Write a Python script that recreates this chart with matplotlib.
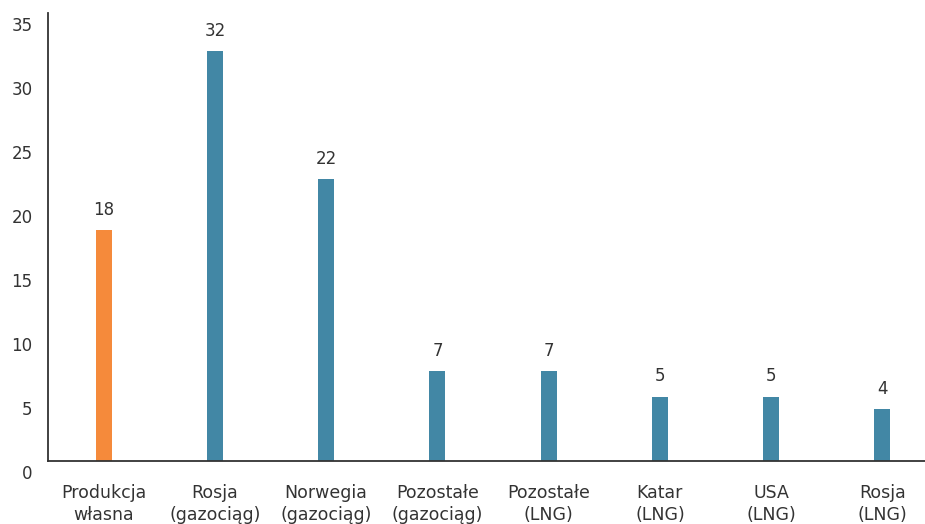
import matplotlib.pyplot as plt
from matplotlib.transforms import ScaledTranslation

# Source data: gas supply (bcm) by source
categories = ["Produkcja\nwłasna", "Rosja\n(gazociąg)", "Norwegia\n(gazociąg)",
              "Pozostałe\n(gazociąg)", "Pozostałe\n(LNG)", "Katar\n(LNG)",
              "USA\n(LNG)", "Rosja\n(LNG)"]
values = [18, 32, 22, 7, 7, 5, 5, 4]
bar_colors = ["#F58A3B"] + ["#4287A5"] * 7

text_color = "#333333"
plt.rcParams['font.family'] = ['DejaVu Sans']

fig = plt.figure(figsize=(9.25, 5.24), dpi=100)
fig.set_facecolor('white')

# Axes deliberately run past the right edge, like the cropped original
ax = fig.add_axes([48 / 925, 63.5 / 524, 890 / 925, 447.5 / 524])

x = range(len(categories))
bars = ax.bar(x, values, width=0.145, color=bar_colors)
ax.bar_label(bars, labels=[str(v) for v in values], padding=8,
             fontsize=12, color=text_color)

ax.set_xlim(-0.5, len(categories) - 0.5)
ax.set_ylim(0, 35)
ax.set_yticks(range(0, 36, 5))
ax.set_xticks(list(x))
ax.set_xticklabels(categories, fontsize=12.5, color=text_color, linespacing=1.3)

ax.tick_params(axis='x', length=0, pad=17)
ax.tick_params(axis='y', length=0, pad=11, labelsize=12, labelcolor=text_color)

# y labels sit a little below their tick positions in the original
shift = ScaledTranslation(0, -3 / 72, fig.dpi_scale_trans)
for lbl in ax.get_yticklabels():
    lbl.set_va('top')
    lbl.set_transform(lbl.get_transform() + shift)

for side in ['top', 'right']:
    ax.spines[side].set_visible(False)
for side in ['left', 'bottom']:
    ax.spines[side].set_color(text_color)
    ax.spines[side].set_linewidth(1.3)

fig.savefig('out.png', dpi=100, facecolor=fig.get_facecolor())
